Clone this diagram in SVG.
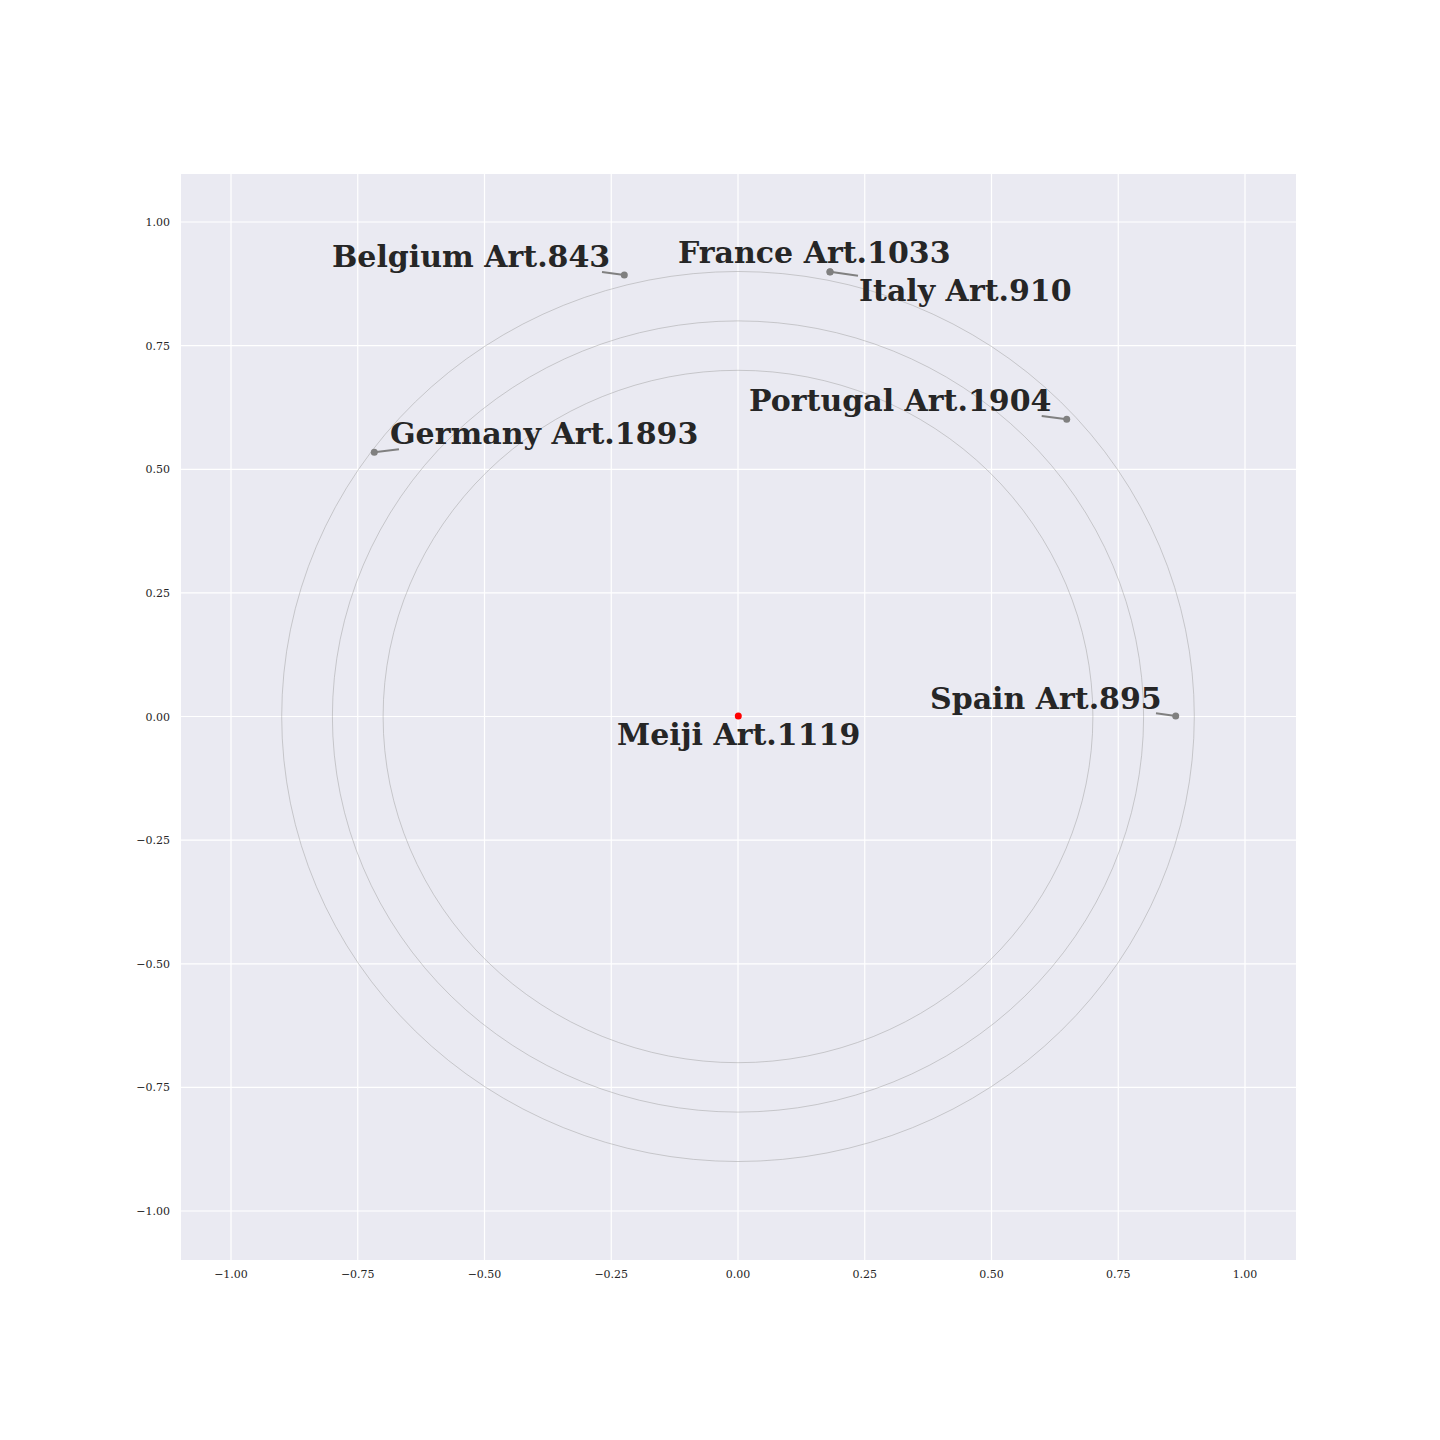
<svg xmlns="http://www.w3.org/2000/svg" width="1440" height="1440" viewBox="0 0 1440 1440">
<style>
.grid{stroke:#ffffff;stroke-width:1.2;fill:none}
.ring{stroke:#a0a0a0;stroke-width:0.5;fill:none}
.tick{font-family:"DejaVu Serif",serif;font-size:11px;fill:#262626}
.lbl{font-family:"DejaVu Serif",serif;font-size:30px;font-weight:bold;fill:#262626}
.lead{stroke:#808080;stroke-width:2;fill:none}
.pt{fill:#808080}
</style>
<rect x="0" y="0" width="1440" height="1440" fill="#ffffff"/>
<rect x="181" y="174" width="1115" height="1086" fill="#EAEAF2"/>
<g id="gridlines">
<line class="grid" x1="231" y1="174" x2="231" y2="1260"/>
<line class="grid" x1="357.75" y1="174" x2="357.75" y2="1260"/>
<line class="grid" x1="484.5" y1="174" x2="484.5" y2="1260"/>
<line class="grid" x1="611.25" y1="174" x2="611.25" y2="1260"/>
<line class="grid" x1="738" y1="174" x2="738" y2="1260"/>
<line class="grid" x1="864.75" y1="174" x2="864.75" y2="1260"/>
<line class="grid" x1="991.5" y1="174" x2="991.5" y2="1260"/>
<line class="grid" x1="1118.25" y1="174" x2="1118.25" y2="1260"/>
<line class="grid" x1="1245" y1="174" x2="1245" y2="1260"/>
<line class="grid" x1="181" y1="222" x2="1296" y2="222"/>
<line class="grid" x1="181" y1="345.6" x2="1296" y2="345.6"/>
<line class="grid" x1="181" y1="469.3" x2="1296" y2="469.3"/>
<line class="grid" x1="181" y1="592.9" x2="1296" y2="592.9"/>
<line class="grid" x1="181" y1="716.5" x2="1296" y2="716.5"/>
<line class="grid" x1="181" y1="840.1" x2="1296" y2="840.1"/>
<line class="grid" x1="181" y1="963.8" x2="1296" y2="963.8"/>
<line class="grid" x1="181" y1="1087.4" x2="1296" y2="1087.4"/>
<line class="grid" x1="181" y1="1211" x2="1296" y2="1211"/>
</g>
<g id="ticklabels">
<text class="tick" x="170" y="226" text-anchor="end">1.00</text>
<text class="tick" x="170" y="349.6" text-anchor="end">0.75</text>
<text class="tick" x="170" y="473.3" text-anchor="end">0.50</text>
<text class="tick" x="170" y="596.9" text-anchor="end">0.25</text>
<text class="tick" x="170" y="720.5" text-anchor="end">0.00</text>
<text class="tick" x="170" y="844.1" text-anchor="end">−0.25</text>
<text class="tick" x="170" y="967.8" text-anchor="end">−0.50</text>
<text class="tick" x="170" y="1091.4" text-anchor="end">−0.75</text>
<text class="tick" x="170" y="1215" text-anchor="end">−1.00</text>
<text class="tick" x="231" y="1278" text-anchor="middle">−1.00</text>
<text class="tick" x="357.75" y="1278" text-anchor="middle">−0.75</text>
<text class="tick" x="484.5" y="1278" text-anchor="middle">−0.50</text>
<text class="tick" x="611.25" y="1278" text-anchor="middle">−0.25</text>
<text class="tick" x="738" y="1278" text-anchor="middle">0.00</text>
<text class="tick" x="864.75" y="1278" text-anchor="middle">0.25</text>
<text class="tick" x="991.5" y="1278" text-anchor="middle">0.50</text>
<text class="tick" x="1118.25" y="1278" text-anchor="middle">0.75</text>
<text class="tick" x="1245" y="1278" text-anchor="middle">1.00</text>
</g>
<g id="rings">
<ellipse class="ring" cx="738" cy="716.5" rx="456.3" ry="445"/>
<ellipse class="ring" cx="738" cy="716.5" rx="405.6" ry="395.6"/>
<ellipse class="ring" cx="738" cy="716.5" rx="354.9" ry="346.2"/>
</g>
<g id="connectors">
<line class="lead" x1="602" y1="272" x2="624.3" y2="275"/>
<line class="lead" x1="830" y1="271.7" x2="858" y2="275.7"/>
<line class="lead" x1="399" y1="449.3" x2="374.3" y2="452.3"/>
<line class="lead" x1="1041.7" y1="416" x2="1066.7" y2="419.3"/>
<line class="lead" x1="1156" y1="713.3" x2="1175.7" y2="716"/>
</g>
<g id="node-belgium">
<circle class="pt" cx="624.3" cy="275" r="3.5"/>
<text class="lbl" x="332" y="267">Belgium Art.843</text>
</g>
<g id="node-france">
<circle class="pt" cx="830" cy="271.7" r="3.5"/>
<text class="lbl" x="678" y="263">France Art.1033</text>
</g>
<g id="node-italy">
<circle class="pt" cx="830" cy="272" r="3.5"/>
<text class="lbl" x="859" y="301">Italy Art.910</text>
</g>
<g id="node-portugal">
<circle class="pt" cx="1066.7" cy="419.3" r="3.5"/>
<text class="lbl" x="749" y="411">Portugal Art.1904</text>
</g>
<g id="node-germany">
<circle class="pt" cx="374.3" cy="452.3" r="3.5"/>
<text class="lbl" x="390" y="444">Germany Art.1893</text>
</g>
<g id="node-spain">
<circle class="pt" cx="1175.7" cy="716" r="3.5"/>
<text class="lbl" x="930" y="709">Spain Art.895</text>
</g>
<g id="node-meiji">
<circle cx="738.3" cy="716" r="3.5" fill="#ff0000"/>
<text class="lbl" x="617" y="745">Meiji Art.1119</text>
</g>
</svg>
